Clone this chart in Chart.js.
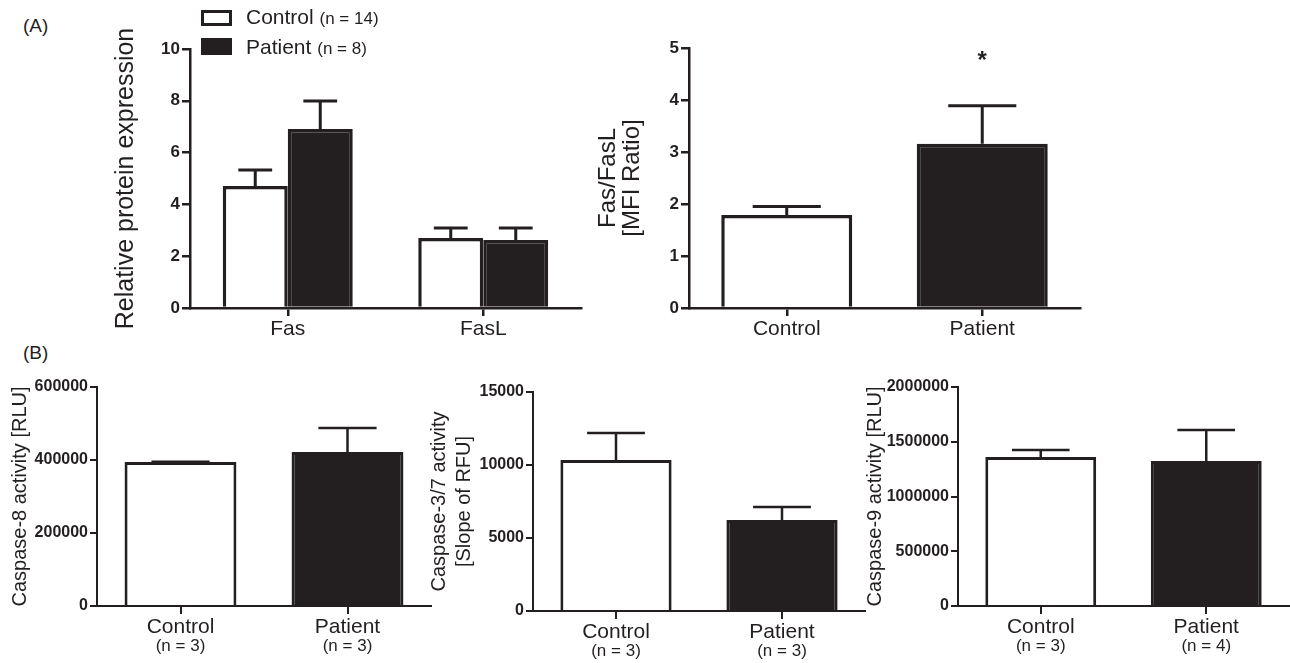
<!DOCTYPE html>
<html>
<head>
<meta charset="utf-8">
<script src="https://cdn.jsdelivr.net/npm/chart.js@4.4.1/dist/chart.umd.min.js"></script>
<style>
    body { margin: 0; background: #fff; }
    #page { position: relative; width: 1290px; height: 663px; overflow: hidden;
            font-family: "Liberation Sans", Arial, Helvetica, sans-serif; color: #231f20; }
    #page canvas { position: absolute; }
    .panel-label { position: absolute; font-size: 19px; line-height: 22px; }
    .swatch { position: absolute; box-sizing: border-box; border: 3px solid #231f20; }
    .legend-text { position: absolute; font-size: 21px; line-height: 24px; white-space: nowrap; }
    .legend-text small { font-size: 17px; }
</style>
</head>
<body>
<div id="page">
    <div class="panel-label" style="left:23px; top:15px;">(A)</div>
    <div class="panel-label" style="left:23px; top:342px;">(B)</div>

    <canvas id="proteinChart" width="489" height="348" style="left:111px; top:0px;"></canvas>
    <canvas id="ratioChart" width="504" height="348" style="left:596px; top:0px;"></canvas>
    <canvas id="casp8Chart" width="432" height="286" style="left:8px; top:370px;"></canvas>
    <canvas id="casp37Chart" width="443" height="291" style="left:427px; top:370px;"></canvas>
    <canvas id="casp9Chart" width="427" height="286" style="left:863px; top:370px;"></canvas>

    <!-- legend for panel A -->
    <div class="swatch" style="left:201px; top:10px; width:31px; height:16px; background:#fff;"></div>
    <div class="legend-text" style="left:246px; top:5px;">Control <small>(n = 14)</small></div>
    <div class="swatch" style="left:201px; top:38px; width:31px; height:17px; background:#231f20;"></div>
    <div class="legend-text" style="left:246px; top:35px;">Patient <small>(n = 8)</small></div>
</div>

<script>
// Panel A, left: relative protein expression
const proteinLabels = ["Fas", "FasL"];
const proteinControl = [4.71, 2.70];
const proteinControlErr = [5.33, 3.09];
const proteinPatient = [6.91, 2.63];
const proteinPatientErr = [7.99, 3.09];
const proteinTicks = [0, 2, 4, 6, 8, 10];

// Panel A, right: Fas/FasL MFI ratio
const groupLabels = ["Control", "Patient"];
const ratioValues = [1.79, 3.16];
const ratioErr = [1.95, 3.89];
const ratioMarks = ["", "*"];
const ratioTicks = [0, 1, 2, 3, 4, 5];

// Panel B: caspase activities
const casp8Values = [394500, 422000];
const casp8Err = [395000, 488000];
const casp8Counts = ["(n = 3)", "(n = 3)"];
const casp8Ticks = [0, 200000, 400000, 600000];

const casp37Values = [10340, 6230];
const casp37Err = [12190, 7120];
const casp37Counts = ["(n = 3)", "(n = 3)"];
const casp37Ticks = [0, 5000, 10000, 15000];

const casp9Values = [1360000, 1324000];
const casp9Err = [1425000, 1607000];
const casp9Counts = ["(n = 3)", "(n = 4)"];
const casp9Ticks = [0, 500000, 1000000, 1500000, 2000000];

const ink = "#231f20";
const fontFamily = "'Liberation Sans', Arial, Helvetica, sans-serif";

Chart.defaults.font.family = fontFamily;
Chart.defaults.color = ink;
Chart.defaults.animation = false;

// error bars (upper SEM only) + optional significance mark
const errorBarPlugin = {
    id: "errorBars",
    afterDatasetsDraw(chart, args, opts) {
        const ctx = chart.ctx;
        const yScale = chart.scales.y;
        chart.data.datasets.forEach((ds, di) => {
            if (!ds.errorBars) return;
            chart.getDatasetMeta(di).data.forEach((bar, i) => {
                const yTop = yScale.getPixelForValue(ds.errorBars[i]);
                const half = bar.width * 0.26;
                ctx.save();
                ctx.strokeStyle = ink;
                ctx.lineWidth = opts.lineWidth || 3;
                ctx.beginPath();
                ctx.moveTo(bar.x, bar.y);
                ctx.lineTo(bar.x, yTop);
                ctx.moveTo(bar.x - half, yTop);
                ctx.lineTo(bar.x + half, yTop);
                ctx.stroke();
                if (opts.marks && opts.marks[i]) {
                    ctx.fillStyle = ink;
                    ctx.font = "bold 24px " + fontFamily;
                    ctx.textAlign = "center";
                    ctx.textBaseline = "middle";
                    ctx.fillText(opts.marks[i], bar.x, yTop - 44);
                }
                ctx.restore();
            });
        });
    }
};

// second line under the x labels, in a smaller font
const countLabelPlugin = {
    id: "countLabels",
    afterDraw(chart, args, opts) {
        if (!opts.labels) return;
        const xScale = chart.scales.x;
        const ctx = chart.ctx;
        ctx.save();
        ctx.fillStyle = ink;
        ctx.font = opts.size + "px " + fontFamily;
        ctx.textAlign = "center";
        ctx.textBaseline = "middle";
        opts.labels.forEach((t, i) => {
            ctx.fillText(t, xScale.getPixelForTick(i), xScale.top + opts.offset);
        });
        ctx.restore();
    }
};

function yAxis(ticks, title, cfg) {
    return {
        min: ticks[0],
        max: ticks[ticks.length - 1],
        z: 1,
        afterBuildTicks: s => { s.ticks = ticks.map(v => ({ value: v })); },
        afterFit: s => { s.width = cfg.width; },
        border: { display: true, color: ink, width: cfg.line },
        grid: { drawOnChartArea: false, drawTicks: true, tickLength: cfg.tickLength, color: ink, lineWidth: cfg.line },
        ticks: { color: ink, padding: 2, font: { size: cfg.tickSize, weight: "bold" }, callback: v => String(v) },
        title: { display: true, text: title, color: ink, padding: 0, font: { size: cfg.titleSize, lineHeight: cfg.titleLine } }
    };
}

function xAxis(cfg) {
    return {
        z: 1,
        afterFit: s => { s.height = cfg.height; },
        border: { display: true, color: ink, width: cfg.line },
        grid: { offset: false, drawOnChartArea: false, drawTicks: true, tickLength: 8, color: ink, lineWidth: cfg.line },
        ticks: { color: ink, padding: 1, font: { size: cfg.labelSize } }
    };
}

function groupBars(values, errors, borderWidth) {
    return [{
        data: values,
        errorBars: errors,
        backgroundColor: ["#ffffff", ink],
        borderColor: ink,
        borderWidth: borderWidth,
        categoryPercentage: 0.67,
        barPercentage: 1
    }];
}

const baseOptions = {
    responsive: false,
    events: [],
    plugins: { legend: { display: false }, tooltip: { enabled: false } }
};

document.addEventListener("DOMContentLoaded", function () {
    // Relative protein expression (grouped)
    new Chart(document.getElementById("proteinChart"), {
        type: "bar",
        data: {
            labels: proteinLabels,
            datasets: [
                {
                    label: "Control",
                    data: proteinControl,
                    errorBars: proteinControlErr,
                    backgroundColor: "#ffffff",
                    borderColor: ink,
                    borderWidth: 3.5,
                    categoryPercentage: 0.665,
                    barPercentage: 1
                },
                {
                    label: "Patient",
                    data: proteinPatient,
                    errorBars: proteinPatientErr,
                    backgroundColor: ink,
                    borderColor: ink,
                    borderWidth: 3.5,
                    categoryPercentage: 0.665,
                    barPercentage: 1
                }
            ]
        },
        options: {
            ...baseOptions,
            layout: { padding: { top: 49, right: 19, left: 0, bottom: 0 } },
            plugins: { ...baseOptions.plugins, errorBars: { lineWidth: 3 } },
            scales: {
                x: xAxis({ height: 40, line: 2.5, labelSize: 21 }),
                y: yAxis(proteinTicks, "Relative protein expression",
                    { width: 79, line: 2.5, tickLength: 8, tickSize: 17, titleSize: 25, titleLine: 1.2 })
            }
        },
        plugins: [errorBarPlugin]
    });

    // Fas/FasL MFI ratio
    new Chart(document.getElementById("ratioChart"), {
        type: "bar",
        data: { labels: groupLabels, datasets: groupBars(ratioValues, ratioErr, 3.5) },
        options: {
            ...baseOptions,
            layout: { padding: { top: 48, right: 20, left: 0, bottom: 0 } },
            plugins: { ...baseOptions.plugins, errorBars: { lineWidth: 3, marks: ratioMarks } },
            scales: {
                x: xAxis({ height: 40, line: 2.5, labelSize: 21 }),
                y: yAxis(ratioTicks, ["Fas/FasL", "[MFI Ratio]"],
                    { width: 93, line: 2.5, tickLength: 8, tickSize: 17, titleSize: 24, titleLine: 1.0 })
            }
        },
        plugins: [errorBarPlugin]
    });

    // Caspase-8
    new Chart(document.getElementById("casp8Chart"), {
        type: "bar",
        data: { labels: groupLabels, datasets: groupBars(casp8Values, casp8Err, 3) },
        options: {
            ...baseOptions,
            layout: { padding: { top: 17, right: 9, left: 0, bottom: 0 } },
            plugins: { ...baseOptions.plugins, errorBars: { lineWidth: 2.5 }, countLabels: { labels: casp8Counts, size: 17, offset: 40 } },
            scales: {
                x: xAxis({ height: 50, line: 2, labelSize: 21 }),
                y: yAxis(casp8Ticks, "Caspase-8 activity [RLU]",
                    { width: 89, line: 2, tickLength: 7, tickSize: 16, titleSize: 20, titleLine: 1.2 })
            }
        },
        plugins: [errorBarPlugin, countLabelPlugin]
    });

    // Caspase-3/7
    new Chart(document.getElementById("casp37Chart"), {
        type: "bar",
        data: { labels: groupLabels, datasets: groupBars(casp37Values, casp37Err, 3) },
        options: {
            ...baseOptions,
            layout: { padding: { top: 22, right: 5, left: 0, bottom: 0 } },
            plugins: { ...baseOptions.plugins, errorBars: { lineWidth: 2.5 }, countLabels: { labels: casp37Counts, size: 17, offset: 40 } },
            scales: {
                x: xAxis({ height: 50, line: 2, labelSize: 21 }),
                y: yAxis(casp37Ticks, ["Caspase-3/7 activity", "[Slope of RFU]"],
                    { width: 106, line: 2, tickLength: 7, tickSize: 16, titleSize: 20, titleLine: 1.25 })
            }
        },
        plugins: [errorBarPlugin, countLabelPlugin]
    });

    // Caspase-9
    new Chart(document.getElementById("casp9Chart"), {
        type: "bar",
        data: { labels: groupLabels, datasets: groupBars(casp9Values, casp9Err, 3) },
        options: {
            ...baseOptions,
            layout: { padding: { top: 17, right: 1, left: 0, bottom: 0 } },
            plugins: { ...baseOptions.plugins, errorBars: { lineWidth: 2.5 }, countLabels: { labels: casp9Counts, size: 17, offset: 40 } },
            scales: {
                x: xAxis({ height: 50, line: 2, labelSize: 21 }),
                y: yAxis(casp9Ticks, "Caspase-9 activity [RLU]",
                    { width: 95, line: 2, tickLength: 7, tickSize: 16, titleSize: 20, titleLine: 1.2 })
            }
        },
        plugins: [errorBarPlugin, countLabelPlugin]
    });
});
</script>
</body>
</html>
